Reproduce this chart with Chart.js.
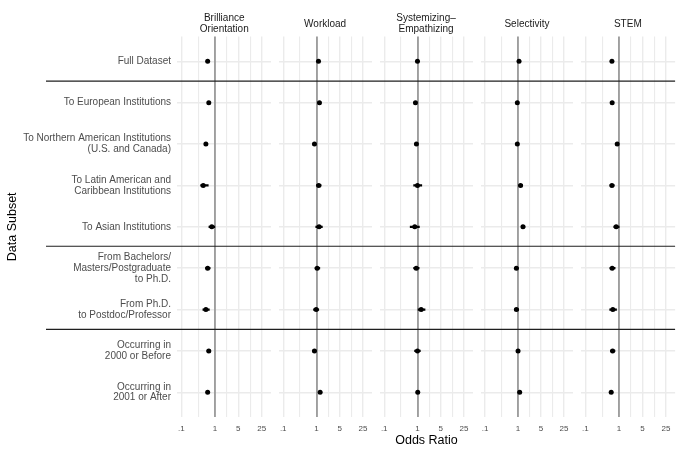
<!DOCTYPE html>
<html><head><meta charset="utf-8">
<script src="https://cdn.jsdelivr.net/npm/chart.js@4/dist/chart.umd.min.js"></script>
<style>
html,body{margin:0;padding:0;background:#fff;}
#wrap{position:relative;width:681px;height:454px;overflow:hidden;font-family:"Liberation Sans",Arial,sans-serif;}
#wrap canvas{position:absolute;top:0;}
.strip{position:absolute;top:1px;height:44.8px;display:flex;align-items:center;justify-content:center;text-align:center;font-size:10px;line-height:11px;color:#1a1a1a;white-space:pre;}
</style></head>
<body><div id="wrap"></div>
<script>
// ---------------- data ----------------
const SUBSETS = [
  "Full Dataset",
  "To European Institutions",
  "To Northern American Institutions\n(U.S. and Canada)",
  "To Latin American and\nCaribbean Institutions",
  "To Asian Institutions",
  "From Bachelors/\nMasters/Postgraduate\nto Ph.D.",
  "From Ph.D.\nto Postdoc/Professor",
  "Occurring in\n2000 or Before",
  "Occurring in\n2001 or After"
];
const PANELS = ["Brilliance\nOrientation", "Workload", "Systemizing–\nEmpathizing", "Selectivity", "STEM"];
const SEPARATORS = [0.48, 4.47, 6.48];
const TICK_VALUES = [0.1, 1, 5, 25];
const TICK_LABELS = [".1", "1", "5", "25"];
const MINOR_TICKS = [0.316, 2.24, 11.2];
const REF_VALUE = 1;

const brillianceEst = [0.61, 0.66, 0.54, 0.45, 0.81, 0.61, 0.54, 0.66, 0.61];
const brillianceLo  = [0.57, 0.61, 0.50, 0.37, 0.65, 0.52, 0.43, 0.57, 0.57];
const brillianceHi  = [0.65, 0.71, 0.59, 0.65, 1.02, 0.74, 0.70, 0.76, 0.65];

const workloadEst = [1.15, 1.23, 0.87, 1.17, 1.20, 1.05, 0.98, 0.87, 1.29];
const workloadLo  = [1.09, 1.15, 0.82, 0.98, 0.93, 0.89, 0.80, 0.76, 1.22];
const workloadHi  = [1.21, 1.31, 0.93, 1.41, 1.54, 1.29, 1.20, 1.00, 1.36];

const sysEmpEst = [1.00, 0.87, 0.93, 1.00, 0.83, 0.92, 1.29, 1.00, 1.02];
const sysEmpLo  = [0.95, 0.80, 0.85, 0.75, 0.59, 0.75, 1.02, 0.80, 0.97];
const sysEmpHi  = [1.05, 0.95, 1.02, 1.38, 1.17, 1.15, 1.73, 1.25, 1.07];

const selectivityEst = [1.07, 0.95, 0.95, 1.19, 1.41, 0.89, 0.89, 1.00, 1.12];
const selectivityLo  = [1.02, 0.90, 0.90, 1.04, 1.23, 0.78, 0.76, 0.95, 1.06];
const selectivityHi  = [1.12, 1.00, 1.00, 1.41, 1.65, 1.02, 1.07, 1.05, 1.18];

const stemEst = [0.62, 0.63, 0.89, 0.62, 0.83, 0.63, 0.66, 0.65, 0.59];
const stemLo  = [0.59, 0.59, 0.84, 0.53, 0.69, 0.53, 0.52, 0.55, 0.56];
const stemHi  = [0.65, 0.67, 0.95, 0.74, 1.04, 0.79, 0.87, 0.78, 0.62];

const SERIES = [
  {est: brillianceEst, lo: brillianceLo, hi: brillianceHi},
  {est: workloadEst, lo: workloadLo, hi: workloadHi},
  {est: sysEmpEst, lo: sysEmpLo, hi: sysEmpHi},
  {est: selectivityEst, lo: selectivityLo, hi: selectivityHi},
  {est: stemEst, lo: stemLo, hi: stemHi}
];

// ---------------- layout ----------------
const W = 681, H = 454;
const FONT = '"Liberation Sans", Arial, sans-serif';
const PLOT_LEFT = 177, PANEL_W = 94.5, PANEL_PITCH = 100.9;
const AREA_TOP = 36.5, AREA_BOTTOM = 417.1;
const X_MIN = 0.0746, X_MAX = 46.9;
const Y_MIN = -0.6, Y_MAX = 8.6;
const BOUNDS = [0, 275, 376, 477, 577, 681];
const LINE_START = 46;

const sepPlugin = {
  id: 'separators',
  beforeDatasetsDraw(chart, args, opts) {
    const ctx = chart.ctx, ys = chart.scales.y;
    const x0 = opts.from, x1 = opts.toArea ? chart.chartArea.right : chart.width;
    ctx.save();
    ctx.strokeStyle = '#1f1f1f';
    ctx.lineWidth = 1.2;
    SEPARATORS.forEach(v => {
      const py = ys.getPixelForValue(v);
      ctx.beginPath(); ctx.moveTo(x0, py); ctx.lineTo(x1, py); ctx.stroke();
    });
    ctx.restore();
  }
};

const wrap = document.getElementById('wrap');

PANELS.forEach((name, i) => {
  const panelLeft = PLOT_LEFT + i * PANEL_PITCH;
  const cL = BOUNDS[i], cR = BOUNDS[i + 1];
  const cw = cR - cL;
  const canvas = document.createElement('canvas');
  canvas.width = cw; canvas.height = H;
  canvas.style.left = cL + 'px';
  canvas.style.width = cw + 'px'; canvas.style.height = H + 'px';
  wrap.appendChild(canvas);

  const strip = document.createElement('div');
  strip.className = 'strip';
  strip.style.left = panelLeft + 'px';
  strip.style.width = PANEL_W + 'px';
  strip.textContent = name;
  wrap.appendChild(strip);

  const padLeft = i === 0 ? 0 : panelLeft - cL;
  const padRight = cR - (panelLeft + PANEL_W);
  const s = SERIES[i];

  const ciSets = s.est.map((_, k) => ({
    type: 'line',
    data: [{x: s.lo[k], y: k}, {x: s.hi[k], y: k}],
    borderColor: '#000000', borderWidth: 2.3, borderCapStyle: 'butt',
    pointRadius: 0, showLine: true, fill: false
  }));
  const pointSet = {
    type: 'scatter',
    data: s.est.map((v, k) => ({x: v, y: k})),
    pointRadius: 2.5, pointBackgroundColor: '#000000', pointBorderWidth: 0
  };

  new Chart(canvas, {
    type: 'scatter',
    data: {datasets: [...ciSets, pointSet]},
    options: {
      responsive: false, animation: false, devicePixelRatio: 1,
      layout: {padding: {left: padLeft, right: padRight, top: AREA_TOP, bottom: 0}},
      plugins: {
        legend: {display: false}, tooltip: {enabled: false},
        separators: {from: i === 0 ? LINE_START : 0, toArea: i === PANELS.length - 1}
      },
      scales: {
        x: {
          type: 'logarithmic', min: X_MIN, max: X_MAX, bounds: 'data',
          border: {display: false},
          grid: {
            drawTicks: false, z: 0,
            color: c => (c.tick && c.tick.value === REF_VALUE) ? '#9e9e9e' : '#ebebeb',
            lineWidth: c => {
              if (!c.tick) return 1;
              if (c.tick.value === REF_VALUE) return 1.9;
              return TICK_VALUES.includes(c.tick.value) ? 1.4 : 1.1;
            }
          },
          afterBuildTicks: sc => { sc.ticks = [...TICK_VALUES, ...MINOR_TICKS].map(v => ({value: v})); },
          ticks: {
            autoSkip: false, maxRotation: 0, minRotation: 0, padding: 6.5, color: '#4d4d4d',
            font: {family: FONT, size: 8},
            callback: v => { const k = TICK_VALUES.indexOf(v); return k >= 0 ? TICK_LABELS[k] : ''; }
          },
          afterFit: sc => { sc.height = H - AREA_BOTTOM; sc.paddingLeft = 0; sc.paddingRight = 0; },
          title: i === 2 ? {display: true, text: 'Odds Ratio', color: '#000000',
                            font: {family: FONT, size: 12.5}, padding: {top: 0, bottom: 5.5}} : {display: false}
        },
        y: {
          type: 'linear', reverse: true, min: Y_MIN, max: Y_MAX,
          border: {display: false},
          grid: {drawTicks: false, color: '#ebebeb', lineWidth: 1.4, z: -1},
          afterBuildTicks: sc => { sc.ticks = SUBSETS.map((_, k) => ({value: k})); },
          ticks: {
            display: i === 0, padding: 6, color: '#4d4d4d',
            font: {family: FONT, size: 10, lineHeight: 1.08},
            callback: (v, idx) => SUBSETS[idx].split('\n')
          },
          afterFit: sc => { sc.width = i === 0 ? PLOT_LEFT : 0; sc.paddingTop = 0; sc.paddingBottom = 0; },
          title: i === 0 ? {display: true, text: 'Data Subset', color: '#000000',
                            font: {family: FONT, size: 12.5}, padding: {top: 5, bottom: 0}} : {display: false}
        }
      }
    },
    plugins: [sepPlugin]
  });
});
</script>
</body></html>
